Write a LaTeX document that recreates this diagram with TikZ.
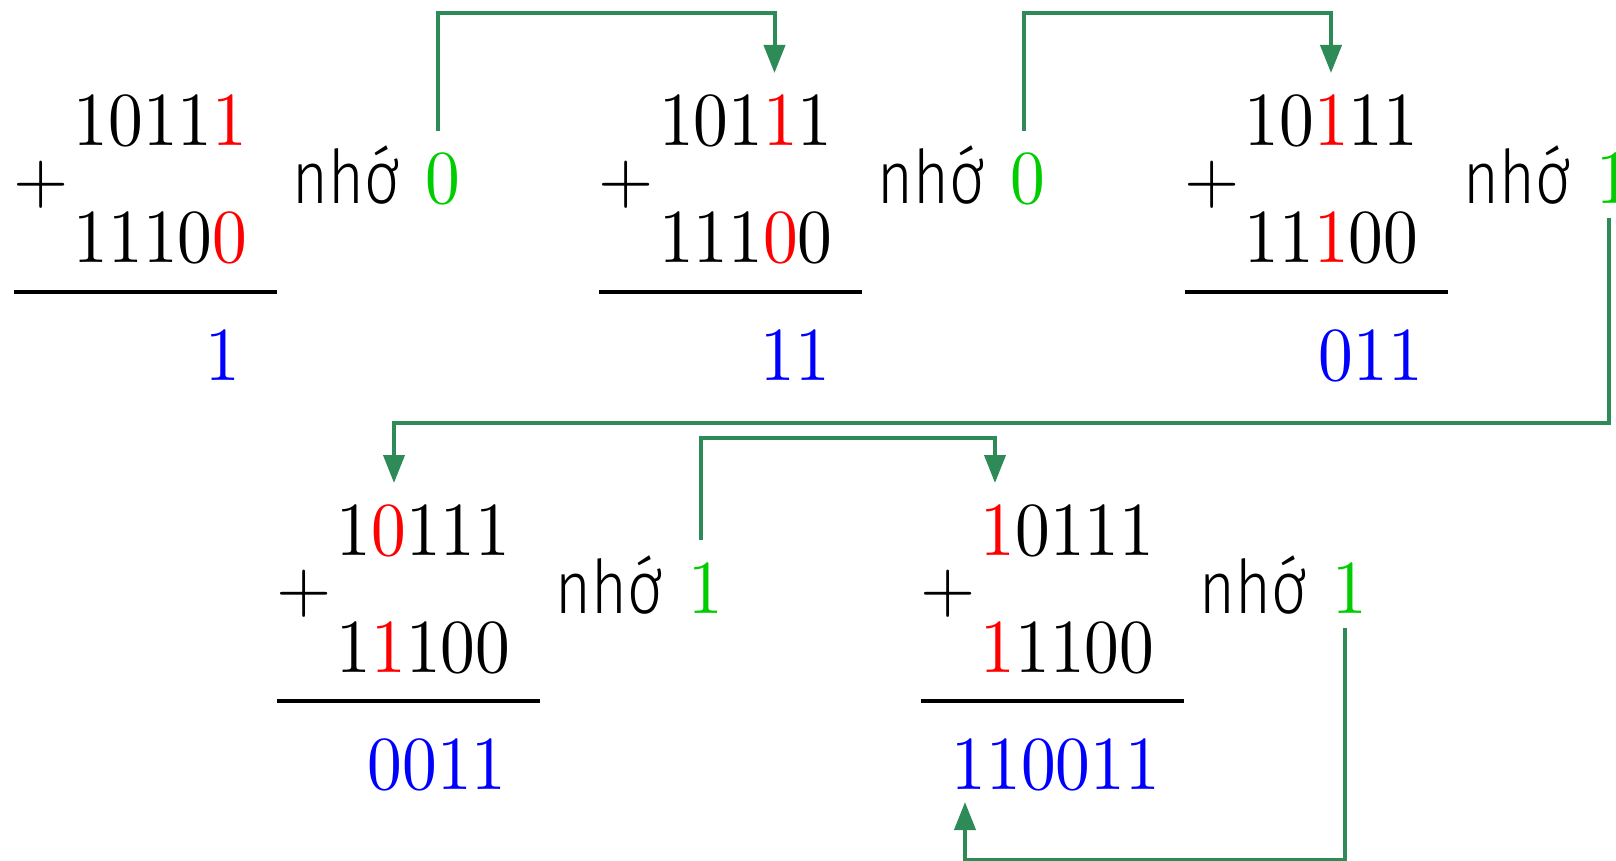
\documentclass[tikz,border=0pt]{standalone}
\usepackage{fontspec}
\setmainfont{lmroman10-regular}[Extension=.otf]
\newfontfamily\nhofont{Fira Sans}[UprightFont={* Light}]
\usetikzlibrary{arrows.meta}
\definecolor{arrowgreen}{RGB}{46,139,87}
\definecolor{carrygreen}{RGB}{0,204,0}
\newcommand{\hl}[1]{\textcolor{red}{#1}}
\newcommand{\vst}[1]{\scalebox{1}[1.10]{#1}}
\newcommand{\lst}[1]{\scalebox{0.93}[1.12]{#1}}
\tikzset{
  num/.style={inner sep=0pt, anchor=base west, font=\fontsize{34.7}{40}\selectfont},
  lbl/.style={inner sep=0pt, anchor=base west, font=\nhofont\fontsize{33}{40}\selectfont},
  plussign/.style={inner sep=0pt, font=\fontsize{35.5}{40}\selectfont},
  sumrule/.style={line width=2.25pt},
  conn/.style={draw=arrowgreen, line width=2pt, -{Triangle[length=14pt,width=10.5pt]}},
}
\newcommand{\additionblock}[8]{%
  \begin{scope}[shift={(#2,#3)}]
    \node[num] (#1top) at (73.4,146) {\vst{#4}};
    \node[num] (#1bot) at (73.4,263) {\vst{#5}};
    \node[plussign] (#1plus) at (41,185) {+};
    \draw[sumrule] (14,292) -- (277,292);
    \node[num,text=blue] (#1res) at (#6,380) {\vst{#7}};
    \node[lbl] (#1lab) at (292,204) {\lst{nhớ}};
    \node[num,text=carrygreen] (#1dig) at (425,204) {\vst{#8}};
  \end{scope}}
\begin{document}
\begin{tikzpicture}[x=0.5pt,y=-0.5pt]
\useasboundingbox (0,0) rectangle (1616,861);
\additionblock{a}{0}{0}{1011\hl{1}}{1110\hl{0}}{205.4}{1}{0}
\additionblock{b}{585.3}{0}{101\hl{1}1}{111\hl{0}0}{175.1}{11}{0}
\additionblock{c}{1171}{0}{10\hl{1}11}{11\hl{1}00}{147.3}{011}{1}
\additionblock{d}{263}{409}{1\hl{0}111}{1\hl{1}100}{104.3}{0011}{1}
\additionblock{e}{907}{409}{\hl{1}0111}{\hl{1}1100}{44.4}{110011}{1}
\coordinate (ab1) at (774.5,13); \coordinate (ab2) at (774.5,73);
\draw[conn] ([xshift=-2.2pt,yshift=36.5pt]adig.base) |- (ab1) -- (ab2);
\coordinate (bc1) at (1331,13); \coordinate (bc2) at (1331,73);
\draw[conn] ([xshift=-2.2pt,yshift=36.5pt]bdig.base) |- (bc1) -- (bc2);
\coordinate (cd1) at (394,423); \coordinate (cd2) at (394,483);
\draw[conn] ([xshift=-2.2pt,yshift=-7pt]cdig.base) |- (cd1) -- (cd2);
\coordinate (de1) at (995,438); \coordinate (de2) at (995,483);
\draw[conn] ([xshift=-2.2pt,yshift=36.5pt]ddig.base) |- (de1) -- (de2);
\coordinate (ee1) at (965,860); \coordinate (ee2) at (965,802);
\draw[conn] ([xshift=-2.2pt,yshift=-7.5pt]edig.base) |- (ee1) -- (ee2);
\end{tikzpicture}
\end{document}
